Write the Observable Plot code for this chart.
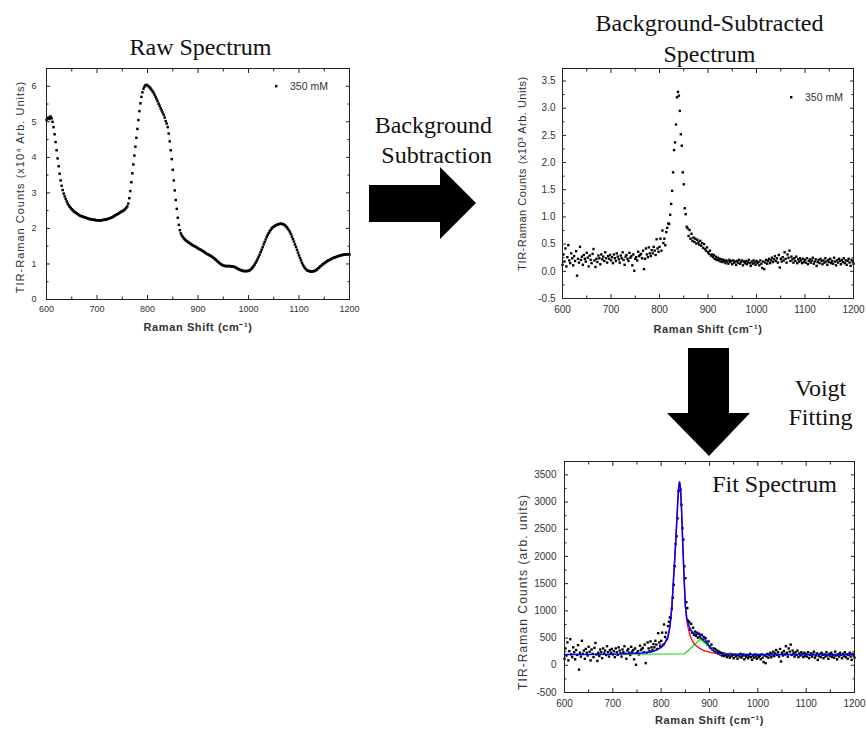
<!DOCTYPE html>
<html><head><meta charset="utf-8">
<script src="https://cdn.jsdelivr.net/npm/d3@7"></script>
<script src="https://cdn.jsdelivr.net/npm/@observablehq/plot@0.6"></script>
<style>
body{margin:0;background:#fff;}
#fig{position:relative;width:867px;height:734px;overflow:hidden;font-family:"Liberation Sans",Arial,sans-serif;background:#fff;}
.panel{position:absolute;}
.panel svg{overflow:visible;}
#overlay{position:absolute;left:0;top:0;pointer-events:none;}
</style></head><body>
<div id="fig">
  <div class="panel" id="p1" style="left:0;top:0"></div>
  <div class="panel" id="p2" style="left:500px;top:0"></div>
  <div class="panel" id="p3" style="left:500px;top:440px"></div>
  <svg id="overlay" width="867" height="734">
    <g font-family="'Liberation Serif','Times New Roman',serif" font-size="24" fill="#111">
      <text x="200.5" y="55" text-anchor="middle">Raw Spectrum</text>
      <text x="709.5" y="31" text-anchor="middle">Background-Subtracted</text>
      <text x="709.5" y="62" text-anchor="middle">Spectrum</text>
      <text x="492" y="133" text-anchor="end">Background</text>
      <text x="492" y="163" text-anchor="end">Subtraction</text>
      <text x="820.5" y="396" text-anchor="middle">Voigt</text>
      <text x="820.5" y="425" text-anchor="middle">Fitting</text>
      <text x="774.5" y="492" text-anchor="middle">Fit Spectrum</text>
    </g>
    <polygon points="369,185 440,185 440,167 476,203 440,239 440,222 369,222" fill="#000"/>
    <polygon points="688,348 729,348 729,413 750,413 709,456 667,413 688,413" fill="#000"/>
    <g font-family="'Liberation Sans',Arial,sans-serif" font-size="10.5" fill="#333">
      <rect x="275" y="85" width="2.4" height="2.4" fill="#000"/>
      <text x="290" y="89.5">350 mM</text>
      <rect x="790" y="96" width="2.4" height="2.4" fill="#000"/>
      <text x="805" y="100.5">350 mM</text>
    </g>
  </svg>
</div>
<script>
// ---------- Data ----------
// Raw spectrum (x10^4 arb. units), Raman shift 600..1200 cm^-1 every 2 cm^-1
const rawStart = 600, rawStep = 2;
const rawCounts = [
  5.05,5.10,5.12,5.08,5.15,5.10,5.00,4.85,4.65,4.43,4.20,3.97,3.75,3.54,3.35,3.20,3.08,2.98,2.90,2.83,
  2.76,2.70,2.65,2.61,2.57,2.54,2.51,2.48,2.46,2.44,2.42,2.40,2.38,2.36,2.35,2.34,2.33,2.32,2.31,2.30,
  2.29,2.28,2.27,2.26,2.26,2.25,2.25,2.24,2.24,2.23,2.23,2.23,2.23,2.22,2.23,2.23,2.24,2.24,2.25,2.25,
  2.26,2.27,2.28,2.29,2.30,2.31,2.33,2.35,2.37,2.38,2.40,2.41,2.43,2.45,2.47,2.48,2.50,2.52,2.55,2.58,
  2.62,2.70,2.85,3.05,3.30,3.55,3.80,4.05,4.30,4.55,4.80,5.05,5.30,5.52,5.70,5.83,5.93,5.99,6.03,6.04,
  6.02,6.00,5.97,5.94,5.90,5.86,5.82,5.76,5.70,5.64,5.58,5.51,5.45,5.38,5.32,5.26,5.20,5.12,5.02,4.95,
  4.85,4.67,4.45,4.20,3.95,3.65,3.35,3.07,2.80,2.55,2.30,2.10,1.95,1.86,1.80,1.76,1.72,1.69,1.66,1.64,
  1.62,1.60,1.58,1.56,1.54,1.52,1.51,1.49,1.48,1.46,1.44,1.42,1.41,1.39,1.38,1.36,1.34,1.32,1.30,1.28,
  1.27,1.25,1.24,1.22,1.20,1.18,1.16,1.13,1.11,1.08,1.06,1.03,1.01,0.99,0.97,0.96,0.95,0.94,0.94,0.94,
  0.94,0.94,0.94,0.93,0.93,0.92,0.92,0.90,0.89,0.87,0.86,0.84,0.83,0.82,0.81,0.80,0.80,0.80,0.80,0.80,
  0.81,0.82,0.84,0.87,0.90,0.94,0.98,1.03,1.08,1.14,1.20,1.26,1.33,1.40,1.47,1.55,1.62,1.69,1.76,1.82,
  1.87,1.92,1.96,2.00,2.03,2.05,2.07,2.09,2.10,2.11,2.12,2.13,2.13,2.13,2.12,2.11,2.09,2.06,2.03,1.99,
  1.95,1.90,1.84,1.77,1.70,1.63,1.55,1.48,1.40,1.32,1.24,1.17,1.10,1.03,0.97,0.92,0.88,0.85,0.82,0.81,
  0.80,0.79,0.79,0.79,0.79,0.80,0.81,0.83,0.85,0.88,0.90,0.93,0.95,0.98,1.00,1.02,1.04,1.06,1.08,1.10,
  1.11,1.13,1.14,1.16,1.17,1.18,1.19,1.20,1.21,1.22,1.23,1.24,1.25,1.25,1.26,1.26,1.27,1.27,1.27,1.27,
  1.27
];

// Background-subtracted spectrum (arb. units), 600..1200 cm^-1 every 2 cm^-1
const bsStart = 600, bsStep = 2;
const bsCounts = [
  120,310,180,420,90,260,480,200,150,330,
  240,110,280,190,370,-80,230,160,450,210,
  270,120,300,230,180,340,250,90,290,210,
  150,320,410,200,80,230,170,290,240,130,
  310,220,270,190,350,240,160,280,230,300,
  200,260,150,310,240,190,330,270,220,160,
  290,240,350,210,120,270,300,230,190,340,
  250,280,110,310,10,230,260,200,360,280,
  300,320,240,380,40,230,420,310,260,440,
  330,280,390,330,450,380,300,590,420,360,
  450,600,380,750,520,600,480,720,800,880,
  870,1040,1240,1480,1820,2230,2370,2700,3200,3300,
  3230,2950,2520,2310,1820,1600,1160,1050,820,790,
  650,760,600,690,560,620,540,600,510,580,
  530,490,560,470,520,430,500,410,380,440,
  350,320,380,290,310,260,300,230,270,210,
  250,200,230,180,220,170,210,190,150,200,
  180,140,210,170,190,130,200,160,180,120,
  190,160,210,140,170,200,110,180,150,190,
  130,170,210,150,100,180,140,200,160,120,
  190,150,170,110,200,140,60,180,40,160,
  210,140,190,230,150,200,250,170,220,280,
  190,240,160,300,70,230,180,260,200,350,
  230,160,310,250,380,190,270,220,160,240,
  190,270,150,220,180,240,200,150,230,170,
  210,160,240,130,190,220,160,200,250,140,
  180,220,100,170,210,150,230,190,130,200,
  160,240,180,120,210,170,230,150,190,140,
  250,180,110,200,160,230,190,130,210,170,
  240,150,200,120,190,230,160,100,210,180,
  140
];

// Voigt fit curves (arb. units)
const blueShift = [600,700,760,780,790,800,806,810,814,818,822,826,830,834,836,838,840,842,845,848,850,853,856,860,865,870,875,880,885,890,895,900,905,910,915,920,930,940,960,1000,1100,1200];
const blueCounts = [200,205,225,250,280,330,380,450,520,700,1050,1650,2250,2950,3250,3370,3250,2900,2150,1500,1100,870,760,670,600,575,570,570,550,490,410,340,290,255,235,220,208,202,200,200,200,200];
const redShift = [780,790,800,806,810,814,818,822,826,830,834,836,838,840,842,845,848,850,853,856,860,865,870,875,880,885,890,900,910,920,930,940,960];
const redCounts = [250,280,330,380,450,520,700,1050,1650,2250,2950,3250,3370,3250,2900,2150,1500,1080,820,680,540,440,380,340,310,285,265,240,225,215,208,204,201];
const greenShift = [722,848,881,918,957];
const greenCounts = [205,208,478,212,205];

// Tick values
const xMajor = [600,700,800,900,1000,1100,1200];
const xMinor = [650,750,850,950,1050,1150];
const y1Major = [0,1,2,3,4,5,6];
const y1Minor = [0.5,1.5,2.5,3.5,4.5,5.5];
const y2Major = [-0.5,0,0.5,1,1.5,2,2.5,3,3.5];
const y2Minor = [-0.25,0.25,0.75,1.25,1.75,2.25,2.75,3.25];
const y3Major = [-500,0,500,1000,1500,2000,2500,3000,3500];
const y3Minor = [-250,250,750,1250,1750,2250,2750,3250];

// ---------- Tables ----------
const rawTable = rawCounts.map((v, i) => ({shift: rawStart + i * rawStep, counts: v}));
const bsTable = bsCounts.map((v, i) => ({shift: bsStart + i * bsStep, counts: v}));
const blueTable = blueShift.map((s, i) => ({shift: s, counts: blueCounts[i]}));
const redTable = redShift.map((s, i) => ({shift: s, counts: redCounts[i]}));
const greenTable = greenShift.map((s, i) => ({shift: s, counts: greenCounts[i]}));

const ink = "#222", txt = "#333";
function axes(yMaj, yMin, yFmt, xPad, yPad, fs) {
  return [
    Plot.frame({stroke: ink, strokeWidth: 1}),
    Plot.axisX(xMajor, {anchor: "bottom", tickSize: -4, fill: "none", stroke: ink}),
    Plot.axisX(xMinor, {anchor: "bottom", tickSize: -2.5, fill: "none", stroke: ink}),
    Plot.axisX(xMajor, {anchor: "top", tickSize: -4, fill: "none", stroke: ink}),
    Plot.axisX(xMinor, {anchor: "top", tickSize: -2.5, fill: "none", stroke: ink}),
    Plot.axisY(yMaj, {anchor: "left", tickSize: -4, fill: "none", stroke: ink}),
    Plot.axisY(yMin, {anchor: "left", tickSize: -2.5, fill: "none", stroke: ink}),
    Plot.axisY(yMaj, {anchor: "right", tickSize: -4, fill: "none", stroke: ink}),
    Plot.axisY(yMin, {anchor: "right", tickSize: -2.5, fill: "none", stroke: ink}),
    Plot.axisX(xMajor, {anchor: "bottom", tickSize: 0, tickPadding: xPad, tickFormat: d => String(d), label: null, fill: txt, fontSize: fs}),
    Plot.axisY(yMaj, {anchor: "left", tickSize: 0, tickPadding: yPad, tickFormat: yFmt, label: null, fill: txt, fontSize: fs})
  ];
}
function xLabel(dy) {
  return Plot.text(["Raman Shift (cm⁻¹)"], {frameAnchor: "bottom", dy, fontSize: 11, fontWeight: "bold", fill: txt});
}
function yLabel(text, dx, dy, fs) {
  return Plot.text([text], {frameAnchor: "left", textAnchor: "middle", dx, dy, rotate: -90, fontSize: fs, fill: txt});
}
function spaceText(svg, prefix, ls) {
  d3.select(svg).selectAll("text")
    .filter(function() { return this.textContent.startsWith(prefix); })
    .style("letter-spacing", ls + "px");
}

// ---------- Panel 1: raw ----------
const p1 = Plot.plot({
  width: 360, height: 345,
  marginLeft: 46, marginRight: 11, marginTop: 68, marginBottom: 46,
  style: {fontFamily: "'Liberation Sans',Arial,sans-serif", background: "transparent"},
  x: {domain: [600, 1200]},
  y: {domain: [0, 6.5]},
  marks: [
    Plot.dot(rawTable, {x: "shift", y: "counts", symbol: "square", r: 1.4, fill: "#000", stroke: "none"}),
    ...axes(y1Major, y1Minor, d => String(d), 6, 10, 9),
    xLabel(31),
    yLabel("TIR-Raman Counts (x10⁴ Arb. Units)", -26, 3, 11)
  ]
});
spaceText(p1, "TIR", 1.0);
spaceText(p1, "Raman Shift", 0.6);
document.getElementById("p1").append(p1);

// ---------- Panel 2: background-subtracted ----------
const p2 = Plot.plot({
  width: 367, height: 345,
  marginLeft: 62, marginRight: 14, marginTop: 68, marginBottom: 47,
  style: {fontFamily: "'Liberation Sans',Arial,sans-serif", background: "transparent"},
  x: {domain: [600, 1200]},
  y: {domain: [-0.5, 3.73]},
  marks: [
    Plot.dot(bsTable, {x: "shift", y: d => d.counts / 1000, symbol: "square", r: 1.35, fill: "#000", stroke: "none"}),
    ...axes(y2Major, y2Minor, d => d.toFixed(1), 7, 7, 10),
    xLabel(34),
    yLabel("TIR-Raman Counts (x10³ Arb. Units)", -40, -10, 11)
  ]
});
spaceText(p2, "TIR", 0.5);
spaceText(p2, "Raman Shift", 0.6);
document.getElementById("p2").append(p2);

// ---------- Panel 3: fit ----------
const p3 = Plot.plot({
  width: 367, height: 294,
  marginLeft: 64, marginRight: 13, marginTop: 21, marginBottom: 42,
  style: {fontFamily: "'Liberation Sans',Arial,sans-serif", background: "transparent"},
  x: {domain: [600, 1200]},
  y: {domain: [-500, 3745]},
  marks: [
    Plot.dot(bsTable, {x: "shift", y: "counts", symbol: "square", r: 1.35, fill: "#000", stroke: "none"}),
    Plot.line(greenTable, {x: "shift", y: "counts", stroke: "#22dd22", strokeWidth: 1.3}),
    Plot.line(redTable, {x: "shift", y: "counts", stroke: "#ff0000", strokeWidth: 1.3}),
    Plot.line(blueTable, {x: "shift", y: "counts", stroke: "#0000ff", strokeWidth: 1.5}),
    ...axes(y3Major, y3Minor, d => String(d), 7, 8, 10),
    xLabel(31.5),
    yLabel("TIR-Raman Counts (arb. units)", -41, 15, 12)
  ]
});
spaceText(p3, "TIR", 1.1);
spaceText(p3, "Raman Shift", 0.6);
document.getElementById("p3").append(p3);
</script>
</body></html>
